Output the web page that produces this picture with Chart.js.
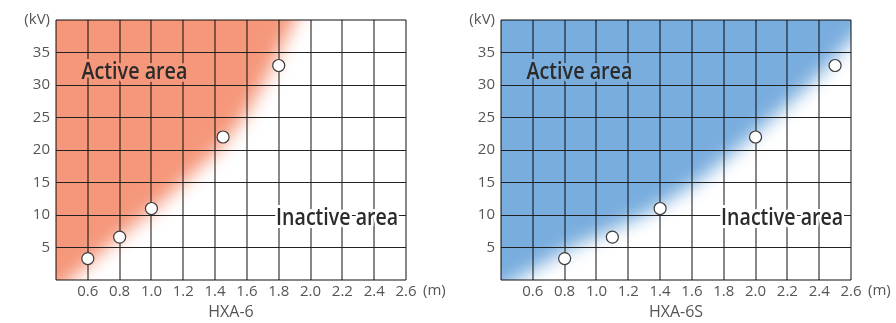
<!DOCTYPE html>
<html>
<head>
<meta charset="utf-8">
<script src="https://cdn.jsdelivr.net/npm/chart.js@4.4.1/dist/chart.umd.min.js"></script>
<style>
  html, body { margin: 0; padding: 0; background: #fff; }
  #wrap { position: relative; width: 896px; height: 323px; overflow: hidden; }
  .box { position: absolute; top: 0; width: 448px; height: 323px; }
</style>
</head>
<body>
<div id="wrap">
  <div class="box" style="left:0"><canvas id="chartA" width="448" height="323"></canvas></div>
  <div class="box" style="left:448px"><canvas id="chartB" width="448" height="323"></canvas></div>
</div>
<script>
// measured points (distance m, voltage kV)
const distA = [0.6, 0.8, 1.0, 1.45, 1.8];
const kvA   = [3.3, 6.6, 11, 22, 33];
const distB = [0.8, 1.1, 1.4, 2.0, 2.5];
const kvB   = [3.3, 6.6, 11, 22, 33];

// middle of the fading edge of the active area
const edgeKv    = [0, 5, 10, 15, 20, 25, 30, 35, 40];
const edgeDistA = [0.49, 0.72, 0.97, 1.2, 1.42, 1.58, 1.70, 1.80, 1.90];
const edgeDistB = [0.49, 0.84, 1.30, 1.63, 1.88, 2.11, 2.34, 2.53, 2.72];

const xMin = 0.4, xMax = 2.6, xStep = 0.2;
const yMin = 0, yMax = 40, yStep = 5;
const yUnit = '(kV)';
const xUnit = '(m)';
const titles = ['HXA-6', 'HXA-6S'];
const areaText = ['Active area', 'Inactive area'];

const FONT = '"Open Sans", "Noto Sans", sans-serif';
const GRAY = '#555';

// fill of the active area, blurred at its edge
const activeArea = {
  id: 'activeArea',
  beforeDraw(chart, args, opts) {
    const meta = chart.getDatasetMeta(0);
    const pts = meta.data.map(p => ({ x: p.x, y: p.y }));
    if (pts.length < 2) return;
    const { left, right, top, bottom } = chart.chartArea;
    const ext = 80;
    const n = pts.length;
    let dx = pts[0].x - pts[1].x, dy = pts[0].y - pts[1].y, len = Math.hypot(dx, dy);
    const start = { x: pts[0].x + dx / len * ext, y: pts[0].y + dy / len * ext };
    dx = pts[n - 1].x - pts[n - 2].x; dy = pts[n - 1].y - pts[n - 2].y; len = Math.hypot(dx, dy);
    const end = { x: pts[n - 1].x + dx / len * ext, y: pts[n - 1].y + dy / len * ext };

    const ctx = chart.ctx;
    ctx.save();
    ctx.beginPath();
    ctx.rect(left, top, right - left, bottom - top);
    ctx.clip();
    ctx.filter = 'blur(' + opts.blur + 'px)';
    ctx.fillStyle = opts.color;
    ctx.beginPath();
    ctx.moveTo(start.x, start.y);
    pts.forEach(p => ctx.lineTo(p.x, p.y));
    ctx.lineTo(end.x, end.y);
    ctx.lineTo(end.x, top - ext);
    ctx.lineTo(left - ext, top - ext);
    ctx.lineTo(left - ext, bottom + ext);
    ctx.lineTo(start.x, bottom + ext);
    ctx.closePath();
    ctx.fill();
    ctx.restore();
  }
};

// "Active area" / "Inactive area" and the (m) unit
const areaLabels = {
  id: 'areaLabels',
  afterDraw(chart, args, opts) {
    const ctx = chart.ctx;
    const xs = chart.scales.x, ys = chart.scales.y;
    opts.items.forEach(it => {
      const px = xs.getPixelForValue(it.x);
      const py = ys.getPixelForValue(it.y);
      ctx.save();
      ctx.font = '600 23px ' + FONT;
      const w = ctx.measureText(it.text).width;
      ctx.translate(px, py);
      ctx.scale(it.width / w, 1);
      ctx.textAlign = 'center';
      ctx.textBaseline = 'alphabetic';
      ctx.lineJoin = 'round';
      ctx.lineWidth = 6;
      ctx.strokeStyle = it.halo;
      ctx.strokeText(it.text, 0, 0);
      ctx.fillStyle = '#2b2b2b';
      ctx.fillText(it.text, 0, 0);
      ctx.restore();
    });
    ctx.save();
    ctx.font = '15px ' + FONT;
    ctx.fillStyle = GRAY;
    ctx.textAlign = 'left';
    ctx.textBaseline = 'middle';
    ctx.fillText(xUnit, chart.chartArea.right + 17, xs.top + 11);
    ctx.restore();
  }
};

function makeChart(id, dist, kv, edgeDist, color, leftW, title) {
  const rightPad = 448 - leftW - 350;
  return new Chart(document.getElementById(id), {
    type: 'scatter',
    data: {
      datasets: [
        {
          label: 'edge',
          data: edgeDist.map((d, i) => ({ x: d, y: edgeKv[i] })),
          showLine: false,
          pointRadius: 0,
          pointHoverRadius: 0
        },
        {
          label: title,
          data: dist.map((d, i) => ({ x: d, y: kv[i] })),
          pointRadius: 6,
          pointBackgroundColor: '#fff',
          pointBorderColor: '#3a3a3a',
          pointBorderWidth: 1.2
        }
      ]
    },
    options: {
      responsive: false,
      devicePixelRatio: 1,
      animation: false,
      layout: { padding: { top: 20, right: rightPad, left: 0, bottom: 0 } },
      plugins: {
        legend: { display: false },
        tooltip: { enabled: false },
        activeArea: { color: color, blur: 9 },
        areaLabels: {
          items: [
            { text: areaText[0], x: 0.893, y: 30.85, width: 106, halo: color },
            { text: areaText[1], x: 2.167, y: 8.46, width: 122, halo: '#fff' }
          ]
        }
      },
      scales: {
        x: {
          type: 'linear',
          min: xMin, max: xMax,
          afterFit: s => { s.height = 43; },
          border: { display: false },
          grid: {
            drawTicks: false,
            color: 'rgba(0,0,0,0.47)',
            lineWidth: 2
          },
          ticks: {
            stepSize: xStep,
            maxTicksLimit: 20,
            autoSkip: false,
            maxRotation: 0,
            padding: 3,
            color: GRAY,
            font: { family: FONT, size: 15 },
            callback: v => (v < 0.5 ? '' : v.toFixed(1))
          },
          title: {
            display: true,
            text: title,
            color: GRAY,
            font: { family: FONT, size: 16 },
            padding: { top: 0, bottom: 1 }
          }
        },
        y: {
          type: 'linear',
          min: yMin, max: yMax,
          afterFit: s => { s.width = leftW; },
          border: { display: false },
          grid: {
            drawTicks: false,
            color: c => (c.tick.value === yMin || c.tick.value === yMax ? 'rgba(0,0,0,0.47)' : '#222'),
            lineWidth: c => (c.tick.value === yMin || c.tick.value === yMax ? 2 : 1)
          },
          ticks: {
            stepSize: yStep,
            padding: 6,
            color: GRAY,
            font: { family: FONT, size: 15 },
            callback: v => (v === yMax ? yUnit : v === yMin ? '' : v)
          }
        }
      }
    },
    plugins: [activeArea, areaLabels]
  });
}

makeChart('chartA', distA, kvA, edgeDistA, '#F5977A', 56, titles[0]);
makeChart('chartB', distB, kvB, edgeDistB, '#79ADDE', 53, titles[1]);
</script>
</body>
</html>
